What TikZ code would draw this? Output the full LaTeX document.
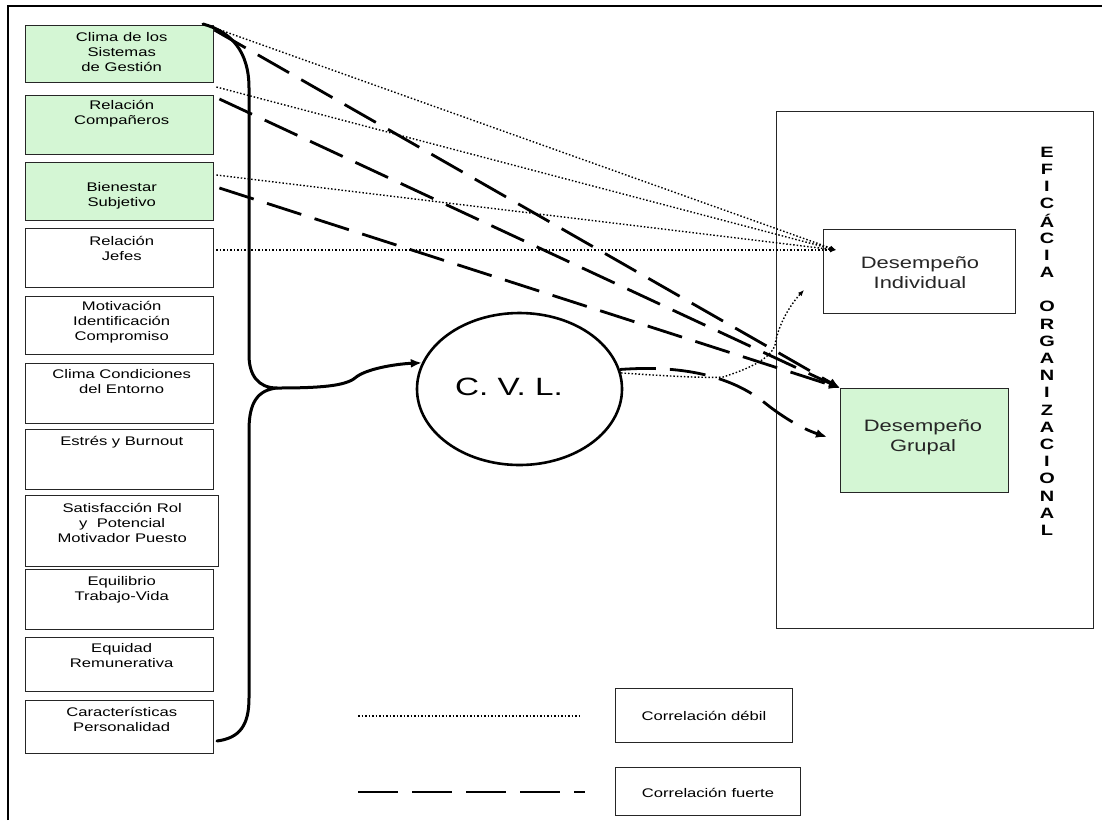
\documentclass[tikz,border=0pt]{standalone}
\usepackage{fontspec}
\setmainfont{Liberation Sans}[FakeStretch=1.33]
\usetikzlibrary{shapes.geometric,arrows.meta,calc}
\definecolor{boxgreen}{RGB}{212,246,212}
\begin{document}
\begin{tikzpicture}[x=1pt,y=-1pt,
  lbox/.style={draw=black!85,line width=1.4pt,minimum width=188pt,anchor=north west,inner sep=0pt},
  gbox/.style={lbox,fill=boxgreen},
  ltext/.style={align=center,font=\fontsize{12.5}{15}\selectfont,inner sep=0pt},
  rtext/.style={align=center,font=\fontsize{16.5}{20}\selectfont,text=black!85,inner sep=0pt},
  weak/.style={line width=1.4pt,dash pattern=on 1.5pt off 2pt},
  strong/.style={line width=2.8pt,dash pattern=on 36pt off 14pt},
  brace/.style={line width=3pt,line cap=round,line join=round},
  bigtip/.style={-{Latex[length=11pt,width=9pt]}},
  smalltip/.style={-{Latex[length=6pt,width=5pt]}},
  vletter/.style={font=\bfseries\fontsize{15}{18}\selectfont,inner sep=0pt}]
\useasboundingbox (0,0) rectangle (1102,820);

% outer frame
\draw[line width=2pt] (8,820) -- (8,6) -- (1102,6);

% factor boxes
\node[gbox,minimum height=57pt] (b1) at (25,25) {};
\node[gbox,minimum height=59pt] (b2) at (25,95) {};
\node[gbox,minimum height=58pt] (b3) at (25,162) {};
\node[lbox,minimum height=59pt] (b4) at (25,228) {};
\node[lbox,minimum height=58pt] (b5) at (25,296) {};
\node[lbox,minimum height=60pt] (b6) at (25,363) {};
\node[lbox,minimum height=60pt] (b7) at (25,429) {};
\node[lbox,minimum height=71pt,minimum width=193pt] (b8) at (25,495) {};
\node[lbox,minimum height=60pt] (b9) at (25,569) {};
\node[lbox,minimum height=54pt] (b10) at (25,637) {};
\node[lbox,minimum height=53pt] (b11) at (25,700) {};

\node[ltext] (t1) at ($(b1.north)+(2,27)$) {Clima de los\\Sistemas\\de Gestión};
\node[ltext] (t2) at ($(b2.north)+(2,19)$) {Relación\\Compañeros};
\node[ltext] (t3) at ($(b3.north)+(2,33.5)$) {Bienestar\\Subjetivo};
\node[ltext] (t4) at ($(b4.north)+(2,20.5)$) {Relación\\Jefes};
\node[ltext] (t5) at ($(b5.north)+(2,26.5)$) {Motivación\\Identificación\\Compromiso};
\node[ltext] (t6) at ($(b6.north)+(2,18.5)$) {Clima Condiciones\\del Entorno};
\node[ltext] (t7) at ($(b7.north)+(2,13)$) {Estrés y Burnout};
\node[ltext] (t8) at ($(b8.north)+(0,28)$) {Satisfacción Rol\\y\ \ Potencial\\Motivador Puesto};
\node[ltext] (t9) at ($(b9.north)+(2,20.5)$) {Equilibrio\\Trabajo-Vida};
\node[ltext] (t10) at ($(b10.north)+(2,19)$) {Equidad\\Remunerativa};
\node[ltext] (t11) at ($(b11.north)+(2,19.5)$) {Características\\Personalidad};

% central construct
\node[ellipse,draw,line width=2.6pt,minimum width=205pt,minimum height=152pt,inner sep=0pt] (cvl) at (519.5,389) {};
\node[font=\fontsize{25}{30}\selectfont,inner sep=0pt] (cvlt) at (509,387) {C.\ V.\ L.};

% brace grouping the factors
\coordinate (bt) at (203,24);
\coordinate (bm) at (277,388);
\coordinate (bb) at (217,741);
\draw[brace] (bt) .. controls (232,32) and (249,52) .. (249,88) -- (249,355)
  .. controls (249,375) and (258,388) .. (bm)
  .. controls (258,390) and (249,402) .. (249,430) -- (249,698)
  .. controls (249,725) and (240,738) .. (bb);
\draw[brace,bigtip] (bm) .. controls (320,388) and (345,386) .. (355,378)
  .. controls (365,369) and (395,364) .. (cvl.165);

% organisational effectiveness
\node[draw=black!85,line width=1.4pt,minimum width=317pt,minimum height=517pt,anchor=north west,inner sep=0pt] (ef) at (776,111) {};
\node[draw=black!85,line width=1.4pt,minimum width=192pt,minimum height=84pt,anchor=north west,inner sep=0pt] (ind) at (823,229) {};
\node[draw=black!85,line width=1.4pt,fill=boxgreen,minimum width=168pt,minimum height=104pt,anchor=north west,inner sep=0pt] (grp) at (840,388) {};
\node[rtext] (indt) at (920,273) {Desempeño\\Individual};
\node[rtext] (grpt) at (923,437) {Desempeño\\Grupal};

% vertical title, one letter every 17.2pt
\foreach \ch [count=\i from 0] in {E,F,I,C,Á,C,I,A,,O,R,G,A,N,I,Z,A,C,I,O,N,A,L}
  \node[vletter] (ef\i) at (1047,152+17.2*\i) {\ch};

% weak correlations
\coordinate (wk) at ($(ind.north west)+(13,21)$);
\draw[weak,smalltip] ($(b1.north east)+(-8,0)$) -- (wk);
\draw[weak,smalltip] ($(b2.north east)+(2,-8)$) -- (wk);
\draw[weak,smalltip] ($(b3.north east)+(2,13)$) -- (wk);
\draw[weak,smalltip] ($(b4.north east)+(2,22)$) -- (wk);
\draw[weak,smalltip] (cvl.9) .. controls (680,377) and (710,378) .. (723,377)
  .. controls (745,370) and (770,360) .. (775,345)
  .. controls (778,325) and (790,305) .. (804,290);

% strong correlations
\draw[strong,bigtip] ($(b1.north east)+(0,5)$) -- (grp.north west);
\draw[strong,bigtip] ($(b2.north east)+(5,4)$) -- (grp.north west);
\draw[strong,bigtip] ($(b3.north east)+(5,26)$) -- (grp.north west);
\draw[strong,bigtip] (cvl.11) .. controls (680,365) and (730,375) .. (765,403)
  .. controls (780,415) and (800,428) .. (827,437);

% legend
\coordinate (l1a) at (358,716);
\coordinate (l1b) at (580,716);
\coordinate (l2a) at (358,792);
\coordinate (l2b) at (585,792);
\draw[weak] (l1a) -- (l1b);
\draw[strong,dash pattern=on 40pt off 14pt] (l2a) -- (l2b);
\node[draw=black!85,line width=1.4pt,minimum width=177pt,minimum height=54pt,anchor=north west,inner sep=0pt] (lg1) at (615,688) {};
\node[draw=black!85,line width=1.4pt,minimum width=185pt,minimum height=48pt,anchor=north west,inner sep=0pt] (lg2) at (615,767) {};
\node[ltext] (lg1t) at (704,716) {Correlación débil};
\node[ltext] (lg2t) at (708,793) {Correlación fuerte};
\end{tikzpicture}
\end{document}
